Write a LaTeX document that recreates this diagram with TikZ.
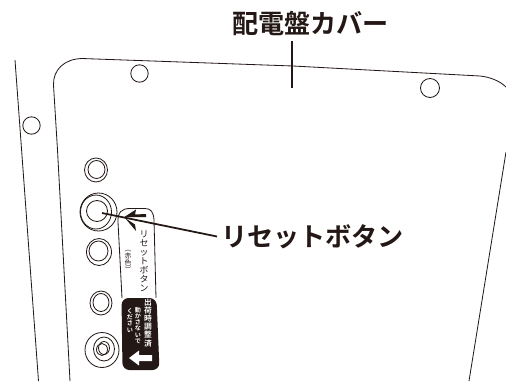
\documentclass[tikz,border=0pt]{standalone}
\usepackage{fontspec}
\newfontfamily\cjkbold{Noto Sans CJK JP Bold}
\newfontfamily\cjkreg{Noto Sans CJK JP}
\definecolor{inkblack}{HTML}{231815}
\begin{document}
\begin{tikzpicture}[x=0.03cm,y=-0.03cm,
    edge/.style={inkblack,line width=0.7pt},
    hole/.style={inkblack,line width=0.7pt},
    leader/.style={inkblack,line width=1.5pt},
    callout/.style={inkblack,inner sep=3.4pt,font=\cjkbold\fontsize{22.3}{24}\selectfont},
    stacktext/.style={inkblack,inner sep=0pt,align=center},
    tagtext/.style={white,inner sep=0pt,align=center}]
    \useasboundingbox(0,0)rectangle(506,381);

    % cover and frame outlines
    \draw[edge](15,60)--(38.5,381);
    \draw[edge](57.5,150)--(53.5,85)..controls(53,70)and(64,59)..(82,58.5)--(293,66)--(480,76)..controls(490,77)and(500,81)..(506,87);
    \draw[edge](57.5,150)--(70,381);
    \draw[edge](506,152)--(469,381);

    % screw holes
    \draw[hole](139.5,73.5)circle(8.7);
    \draw[hole](430,88)circle(9.5);
    \draw[hole](31.5,125.5)circle(8.7);

    % sockets
    \draw[hole](96,170)ellipse(11.5 and 12);
    \draw[hole](96.5,169.5)ellipse(8.5 and 9);
    \draw[hole](98.5,212)ellipse(18.5 and 19);
    \draw[hole](96,212)ellipse(15.5 and 17);
    \draw[hole](97,211)circle(10.5);
    \draw[hole](99,252)ellipse(12.5 and 13.5);
    \draw[hole](98.5,251)ellipse(9.5 and 10);
    \draw[hole](101,303)ellipse(11 and 12);
    \draw[hole](101,302.5)ellipse(8 and 9);
    \draw[hole](102,350)ellipse(17 and 17.5);
    \draw[hole](104,349)ellipse(10.5 and 12);
    \draw[hole](102,349.5)ellipse(5.5 and 6);
    \draw[hole](104,348)ellipse(5.5 and 6.5);

    % label strip
    \draw[edge](122,298)--(118,222)..controls(117.5,212)and(122,208.5)..(130,208.5)--(145,208.5)..controls(151,208.5)and(153.5,212)..(154,220)--(156,298);
    \fill[inkblack](123.5,217.5)--(136,209.5)--(135,214.5)--(146,214)--(146,217)--(134,217)--cycle;
    \fill[inkblack](125,218)--(136,231)--(135,224.5)--cycle;

    \node[stacktext,font=\cjkreg\fontsize{7.6}{7.6}\selectfont](stripname)at(144,261){リ\\セ\\ッ\\ト\\ボ\\タ\\ン};
    \node[stacktext,font=\cjkreg\fontsize{5.8}{5.8}\selectfont](stripcolor)at(128,261.5){︵\\赤\\色\\︶};

    % black tag
    \fill[inkblack,rounded corners=6pt](121.5,298)--(156.5,298)--(159.5,370)--(122.5,370)--cycle;
    \fill[white](129,358)--(139,350.5)--(139,355)--(152,355)--(152,361)--(139,361)--(139,365.5)--cycle;
    \node[tagtext,font=\cjkbold\fontsize{6.6}{6.9}\selectfont](tagfirst)at(148,323){出\\荷\\時\\調\\整\\済};
    \node[tagtext,font=\cjkbold\fontsize{5.2}{5.2}\selectfont](tagsecond)at(138,325.5){動\\か\\さ\\な\\い\\で};
    \node[tagtext,font=\cjkbold\fontsize{5.2}{5.2}\selectfont](tagthird)at(130,320.5){く\\だ\\さ\\い};

    % callouts
    \node[callout,anchor=center](coverlabel)at(310.5,24){配電盤カバー};
    \node[callout,anchor=west](resetlabel)at(217,236.5){リセットボタン};
    \coordinate(covertop)at(292,41);
    \coordinate(coverend)at(292,88);
    \coordinate(resetend)at(102,213);
    \draw[leader](covertop)--(coverend);
    \draw[leader](resetlabel.west)--(resetend);
\end{tikzpicture}
\end{document}
